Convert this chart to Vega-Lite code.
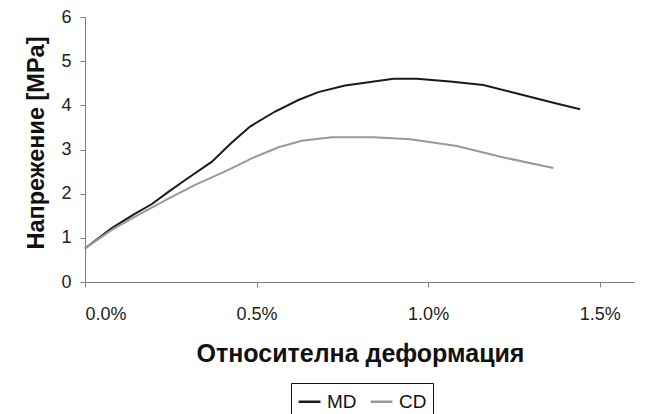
{
  "$schema": "https://vega.github.io/schema/vega-lite/v6.json",
  "width": 549,
  "height": 265,
  "autosize": {"type": "none"},
  "padding": {"left": 85, "top": 17, "right": 20, "bottom": 132},
  "background": "white",
  "data": {
    "values": [
      {"series": "MD", "strain": 0.0, "stress": 0.76},
      {"series": "MD", "strain": 0.00078, "stress": 1.22},
      {"series": "MD", "strain": 0.00146, "stress": 1.55},
      {"series": "MD", "strain": 0.00194, "stress": 1.76},
      {"series": "MD", "strain": 0.00243, "stress": 2.04},
      {"series": "MD", "strain": 0.00292, "stress": 2.31},
      {"series": "MD", "strain": 0.00369, "stress": 2.72},
      {"series": "MD", "strain": 0.00428, "stress": 3.16},
      {"series": "MD", "strain": 0.00481, "stress": 3.52},
      {"series": "MD", "strain": 0.00554, "stress": 3.86},
      {"series": "MD", "strain": 0.00622, "stress": 4.12},
      {"series": "MD", "strain": 0.0068, "stress": 4.3},
      {"series": "MD", "strain": 0.00758, "stress": 4.45},
      {"series": "MD", "strain": 0.00816, "stress": 4.51},
      {"series": "MD", "strain": 0.00899, "stress": 4.6},
      {"series": "MD", "strain": 0.00967, "stress": 4.6},
      {"series": "MD", "strain": 0.01064, "stress": 4.54},
      {"series": "MD", "strain": 0.01161, "stress": 4.46},
      {"series": "MD", "strain": 0.01259, "stress": 4.27},
      {"series": "MD", "strain": 0.01365, "stress": 4.06},
      {"series": "MD", "strain": 0.01443, "stress": 3.91},
      {"series": "CD", "strain": 0.0, "stress": 0.76},
      {"series": "CD", "strain": 0.00078, "stress": 1.18},
      {"series": "CD", "strain": 0.00146, "stress": 1.48},
      {"series": "CD", "strain": 0.00243, "stress": 1.89},
      {"series": "CD", "strain": 0.00321, "stress": 2.2},
      {"series": "CD", "strain": 0.00418, "stress": 2.54},
      {"series": "CD", "strain": 0.00486, "stress": 2.8},
      {"series": "CD", "strain": 0.00564, "stress": 3.05},
      {"series": "CD", "strain": 0.00632, "stress": 3.2},
      {"series": "CD", "strain": 0.00719, "stress": 3.28},
      {"series": "CD", "strain": 0.00841, "stress": 3.28},
      {"series": "CD", "strain": 0.00948, "stress": 3.23},
      {"series": "CD", "strain": 0.01084, "stress": 3.08},
      {"series": "CD", "strain": 0.0122, "stress": 2.82},
      {"series": "CD", "strain": 0.01365, "stress": 2.58}
    ]
  },
  "mark": {"type": "line", "strokeWidth": 2},
  "encoding": {
    "x": {
      "field": "strain",
      "type": "quantitative",
      "scale": {"domain": [0, 0.016], "nice": false, "zero": false},
      "axis": {
        "title": "Относителна деформация",
        "values": [0, 0.005, 0.01, 0.015],
        "format": ".1%",
        "labelPadding": 18,
        "titleFontSize": 25,
        "titleBaseline": "alphabetic",
        "titleY": 79,
        "titleX": 275,
        "titleAnchor": "middle"
      }
    },
    "y": {
      "field": "stress",
      "type": "quantitative",
      "scale": {"domain": [0, 6], "nice": false},
      "axis": {
        "title": "Напрежение [MPa]",
        "values": [0, 1, 2, 3, 4, 5, 6],
        "format": "d",
        "labelPadding": 9,
        "titleFontSize": 23.5,
        "titleX": -42,
        "titleY": 125.5,
        "titleAngle": -90,
        "titleAlign": "center",
        "titleBaseline": "alphabetic"
      }
    },
    "color": {
      "field": "series",
      "type": "nominal",
      "sort": ["MD", "CD"],
      "scale": {"domain": ["MD", "CD"], "range": ["#1a1a1a", "#999999"]},
      "legend": {
        "title": null,
        "orient": "none",
        "direction": "horizontal",
        "legendX": 206,
        "legendY": 366,
        "symbolType": "stroke",
        "symbolSize": 480,
        "symbolStrokeWidth": 2.5,
        "labelFont": "Liberation Sans",
        "labelFontSize": 19,
        "labelColor": "#111",
        "labelOffset": 5,
        "columnPadding": 8,
        "strokeColor": "#111",
        "padding": 6
      }
    }
  },
  "config": {
    "view": {"stroke": null},
    "axis": {
      "grid": false,
      "domainColor": "#808080",
      "tickColor": "#808080",
      "tickSize": 5,
      "labelFont": "Liberation Sans",
      "labelFontSize": 18,
      "labelColor": "#222",
      "titleFont": "Liberation Sans",
      "titleFontWeight": "bold",
      "titleColor": "#111"
    }
  }
}
